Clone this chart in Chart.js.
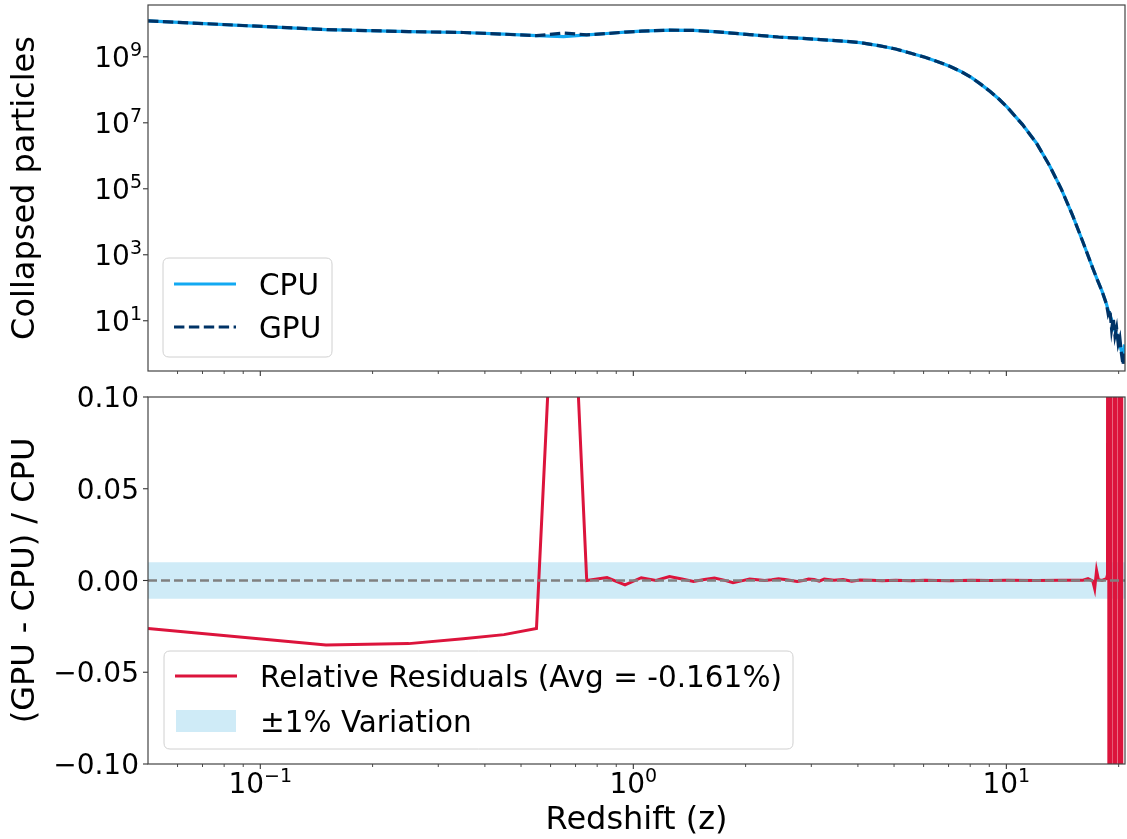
<!DOCTYPE html>
<html><head><meta charset="utf-8">
<script src="https://cdn.jsdelivr.net/npm/chart.js@4.4.0/dist/chart.umd.min.js"></script>
<style>
html,body{margin:0;padding:0;background:#fff;}
#wrap{position:relative;width:1127px;height:839px;overflow:hidden;}
canvas{position:absolute;left:0;}
</style></head><body>
<div id="wrap">
<canvas id="topChart" width="1127" height="385" style="top:0px"></canvas>
<canvas id="botChart" width="1127" height="454" style="top:385px"></canvas>
</div>
<script>
// ---------------- DATA ----------------
const redshiftTop = [0.05,0.15,0.25,0.35,0.45,0.55,0.65,0.75,0.85,0.95,1.05,1.25,1.45,1.65,2.05,2.45,2.85,3.25,3.65,4.05,4.55,5.05,5.55,6.05,6.55,7.05,7.55,8.05,8.55,9.05,9.55,10.05,11.05,12.05,13.05,14.05,15.05,16.05,17.05,17.55,18.05,18.55,18.75,18.95,19.15,19.35,19.55,19.75,19.95,20.15,20.35,20.55,20.75];
const cpuCollapsed = [1.23e10,6.7e9,5.8e9,5.46e9,4.85e9,4.37e9,4.1e9,4.65e9,5.1e9,5.6e9,5.97e9,6.46e9,6.3e9,5.8e9,4.7e9,3.98e9,3.6e9,3.27e9,3.0e9,2.7e9,2.18e9,1.72e9,1.28e9,9.7e8,7.1e8,5.2e8,3.6e8,2.37e8,1.46e8,8.9e7,5.25e7,2.98e7,8.8e6,2.4e6,5.1e5,9.6e4,1.57e4,2.4e3,392,170,79,32,21,15,10.7,7.6,5.0,3.8,2.6,1.9,1.2,0.93,1.9];
const gpuCollapsed = [1.23e10,6.7e9,5.8e9,5.46e9,4.85e9,4.37e9,5.25e9,4.65e9,5.1e9,5.6e9,5.97e9,6.46e9,6.3e9,5.8e9,4.7e9,3.98e9,3.6e9,3.27e9,3.0e9,2.7e9,2.18e9,1.72e9,1.28e9,9.7e8,7.1e8,5.2e8,3.6e8,2.37e8,1.46e8,8.9e7,5.25e7,2.98e7,8.8e6,2.4e6,5.1e5,9.6e4,1.57e4,2.4e3,392,170,79,32,16,22,5.5,12,3.5,6,2,3,1.0,0.45,1.2];

const redshiftRes = [0.05,0.15,0.25,0.35,0.45,0.55,0.65,0.75,0.85,0.95,1.05,1.15,1.25,1.35,1.45,1.55,1.65,1.75,1.85,1.95,2.05,2.15,2.25,2.35,2.45,2.55,2.65,2.75,2.85,2.95,3.05,3.15,3.25,3.45,3.65,3.85,4.05,4.35,4.65,5.05,5.55,6.05,7.05,8.05,9.05,10.05,12.05,14.05,16.05,16.55,17.05,17.25,17.45,17.65,18.05,18.55,18.667,18.76,18.88,19.00,19.07,19.43,19.50,19.57,19.65,20.01,20.11,20.21,20.31,20.39];
const relResidual = [-0.0262,-0.0352,-0.0344,-0.0317,-0.0295,-0.0262,0.28,0.0,0.0016,-0.0024,0.0015,0.0,0.0022,0.0008,-0.0005,0.0005,0.0014,0.0002,-0.0012,-0.0002,0.0008,0.0004,0.0,0.0004,0.0010,0.0005,0.0,-0.0005,0.0,0.0008,0.0005,-0.0003,0.0008,0.0002,0.0005,-0.0004,0.0003,0.0001,-0.0002,0.0002,-0.0001,0.0002,-0.0001,0.0001,0.0,0.0001,0.0,0.0001,0.0002,0.001,-0.0003,-0.0045,0.0055,0.0005,0.0,0.001,0.003,1.0,-1.0,1.0,-1.0,-1.0,1.0,-1.0,1.0,1.0,-1.0,1.0,-1.0,1.0];

const bandZ = [0.05, 20.8];
const bandUpper = [0.01, 0.01];
const bandLower = [-0.01, -0.01];
const zeroLine = [0, 0];

const xLimits = [0.05, 20.8];
const topYLimits = [0.323, 3.72e10];
const botYLimits = [-0.10, 0.10];

const xMajorTicks = [0.1, 1, 10];
const xMajorLabels = [['10','\u22121'],['10','0'],['10','1']];
const xMinorTicks = [0.06,0.07,0.08,0.09,0.2,0.3,0.4,0.5,0.6,0.7,0.8,0.9,2,3,4,5,6,7,8,9,20];
const topYTicks = [1e1,1e3,1e5,1e7,1e9];
const topYLabels = [['10','1'],['10','3'],['10','5'],['10','7'],['10','9']];
const botYTicks = [0.10,0.05,0.0,-0.05,-0.10];
const botYLabels = ['0.10','0.05','0.00','\u22120.05','\u22120.10'];

const seriesLabels = ['CPU','GPU','Relative Residuals (Avg = -0.161%)','\u00b11% Variation'];

// ---------------- STYLE ----------------
const FAM = '"DejaVu Sans", "Liberation Sans", sans-serif';
const TICK_F = 28, EXP_F = 19, RAISE = 11, TITLE_F = 32, LEG_F = 29.5;
const f = s => s + 'px ' + FAM;
const CPU_COL = '#12a9f2', GPU_COL = '#003366', RED = '#dc143c', BAND = 'rgba(135,206,235,0.4)';

const pts = (xs, ys) => xs.map((x, i) => ({x, y: ys[i]}));

function drawPow(ctx, parts, x, yBase, align){
  ctx.font = f(TICK_F); const w1 = ctx.measureText(parts[0]).width;
  ctx.font = f(EXP_F); const w2 = ctx.measureText(parts[1]).width;
  const x0 = align === 'right' ? x - w1 - w2 : x - (w1 + w2) / 2;
  ctx.textAlign = 'left'; ctx.textBaseline = 'alphabetic'; ctx.fillStyle = '#000';
  ctx.font = f(TICK_F); ctx.fillText(parts[0], x0, yBase);
  ctx.font = f(EXP_F); ctx.fillText(parts[1], x0 + w1, yBase - RAISE);
}
function seg(ctx, x1, y1, x2, y2, w, c){
  ctx.beginPath(); ctx.moveTo(x1, y1); ctx.lineTo(x2, y2);
  ctx.lineWidth = w; ctx.strokeStyle = c; ctx.stroke();
}
function roundRect(ctx, x, y, w, h, r){
  ctx.beginPath();
  ctx.moveTo(x + r, y); ctx.lineTo(x + w - r, y); ctx.quadraticCurveTo(x + w, y, x + w, y + r);
  ctx.lineTo(x + w, y + h - r); ctx.quadraticCurveTo(x + w, y + h, x + w - r, y + h);
  ctx.lineTo(x + r, y + h); ctx.quadraticCurveTo(x, y + h, x, y + h - r);
  ctx.lineTo(x, y + r); ctx.quadraticCurveTo(x, y, x + r, y); ctx.closePath();
}

const decorPlugin = {
  id: 'decor',
  afterDatasetsDraw(chart, args, o){
    const {ctx, chartArea: a, scales} = chart;
    ctx.save();
    const xs = scales.x, ys = scales.y;
    xMinorTicks.forEach(v => { const p = xs.getPixelForValue(v); seg(ctx, p, a.bottom, p, a.bottom + 3, 0.9, '#333'); });
    xMajorTicks.forEach(v => { const p = xs.getPixelForValue(v); seg(ctx, p, a.bottom, p, a.bottom + 5, 1.1, '#333'); });
    if (o.xLabels){
      xMajorTicks.forEach((v, i) => drawPow(ctx, xMajorLabels[i], xs.getPixelForValue(v), a.bottom + 29, 'center'));
      ctx.font = f(TITLE_F); ctx.textAlign = 'center'; ctx.textBaseline = 'alphabetic'; ctx.fillStyle = '#000';
      ctx.fillText(o.xTitle, (a.left + a.right) / 2, a.bottom + 65);
    }
    o.yTicks.forEach((v, i) => {
      const p = ys.getPixelForValue(v);
      seg(ctx, a.left - 5, p, a.left, p, 1.1, '#333');
      const lab = o.yLabels[i];
      if (Array.isArray(lab)) drawPow(ctx, lab, a.left - 6, p + 10, 'right');
      else {
        ctx.font = f(TICK_F); ctx.textAlign = 'right'; ctx.textBaseline = 'alphabetic'; ctx.fillStyle = '#000';
        ctx.fillText(lab, a.left - 9, p + 10);
      }
    });
    ctx.save();
    ctx.translate(34, (a.top + a.bottom) / 2); ctx.rotate(-Math.PI / 2);
    ctx.font = f(TITLE_F); ctx.textAlign = 'center'; ctx.textBaseline = 'alphabetic'; ctx.fillStyle = '#000';
    ctx.fillText(o.yTitle, 0, 0);
    ctx.restore();
    ctx.lineWidth = 1.2; ctx.strokeStyle = '#444';
    ctx.strokeRect(a.left, a.top, a.right - a.left, a.bottom - a.top);
    const L = o.legend;
    roundRect(ctx, L.x, L.y, L.w, L.h, 6);
    ctx.fillStyle = 'rgba(255,255,255,0.8)'; ctx.fill();
    ctx.lineWidth = 1; ctx.strokeStyle = '#d0d0d0'; ctx.stroke();
    L.items.forEach(it => {
      const ds = chart.data.datasets[it.ds];
      if (it.kind === 'line'){
        ctx.setLineDash(ds.borderDash || []);
        seg(ctx, L.x + 11, it.y, L.x + 73, it.y, ds.borderWidth, ds.borderColor);
        ctx.setLineDash([]);
      } else {
        ctx.fillStyle = ds.backgroundColor; ctx.fillRect(L.x + 12, it.y - 11, 60, 22);
      }
      ctx.font = f(LEG_F); ctx.textAlign = 'left'; ctx.textBaseline = 'alphabetic'; ctx.fillStyle = '#000';
      ctx.fillText(ds.label, L.x + 96, it.y + 10.5);
    });
    ctx.restore();
  }
};

Chart.defaults.font.family = FAM;
Chart.defaults.animation = false;

new Chart(document.getElementById('topChart'), {
  type: 'line',
  data: { datasets: [
    { label: seriesLabels[0], data: pts(redshiftTop, cpuCollapsed), borderColor: CPU_COL, borderWidth: 3.2, pointRadius: 0, tension: 0, order: 2, fill: false },
    { label: seriesLabels[1], data: pts(redshiftTop, gpuCollapsed), borderColor: GPU_COL, borderWidth: 3.2, borderDash: [10.4, 4.5], pointRadius: 0, tension: 0, order: 1, fill: false }
  ]},
  options: {
    responsive: false, animation: false, events: [],
    layout: { padding: { left: 148, right: 2, top: 5, bottom: 14 } },
    scales: {
      x: { type: 'logarithmic', min: xLimits[0], max: xLimits[1], display: false },
      y: { type: 'logarithmic', min: topYLimits[0], max: topYLimits[1], display: false }
    },
    plugins: {
      legend: { display: false }, tooltip: { enabled: false },
      decor: { xLabels: false, yTicks: topYTicks, yLabels: topYLabels, yTitle: 'Collapsed particles',
        legend: { x: 163, y: 258, w: 169, h: 99, items: [ {ds: 0, kind: 'line', y: 284}, {ds: 1, kind: 'line', y: 327} ] } }
    }
  },
  plugins: [decorPlugin]
});

new Chart(document.getElementById('botChart'), {
  type: 'line',
  data: { datasets: [
    { label: seriesLabels[2], data: pts(redshiftRes, relResidual), borderColor: RED, borderWidth: 3, pointRadius: 0, tension: 0, order: 2, fill: false, clip: 0 },
    { label: seriesLabels[3], data: pts(bandZ, bandUpper), borderWidth: 0, borderColor: 'rgba(0,0,0,0)', backgroundColor: BAND, pointRadius: 0, fill: '+1', order: 4 },
    { label: '', data: pts(bandZ, bandLower), borderWidth: 0, borderColor: 'rgba(0,0,0,0)', pointRadius: 0, fill: false, order: 5 },
    { label: 'zero', data: pts(bandZ, zeroLine), borderColor: '#808080', borderWidth: 2.5, borderDash: [9, 4], pointRadius: 0, fill: false, order: 1 }
  ]},
  options: {
    responsive: false, animation: false, events: [],
    layout: { padding: { left: 148, right: 2, top: 12, bottom: 75 } },
    scales: {
      x: { type: 'logarithmic', min: xLimits[0], max: xLimits[1], display: false },
      y: { type: 'linear', min: botYLimits[0], max: botYLimits[1], display: false }
    },
    plugins: {
      legend: { display: false }, tooltip: { enabled: false },
      decor: { xLabels: true, xTitle: 'Redshift (z)', yTicks: botYTicks, yLabels: botYLabels, yTitle: '(GPU - CPU) / CPU',
        legend: { x: 164, y: 266, w: 629, h: 98, items: [ {ds: 0, kind: 'line', y: 291}, {ds: 1, kind: 'patch', y: 336} ] } }
    }
  },
  plugins: [decorPlugin]
});
</script>
</body></html>
